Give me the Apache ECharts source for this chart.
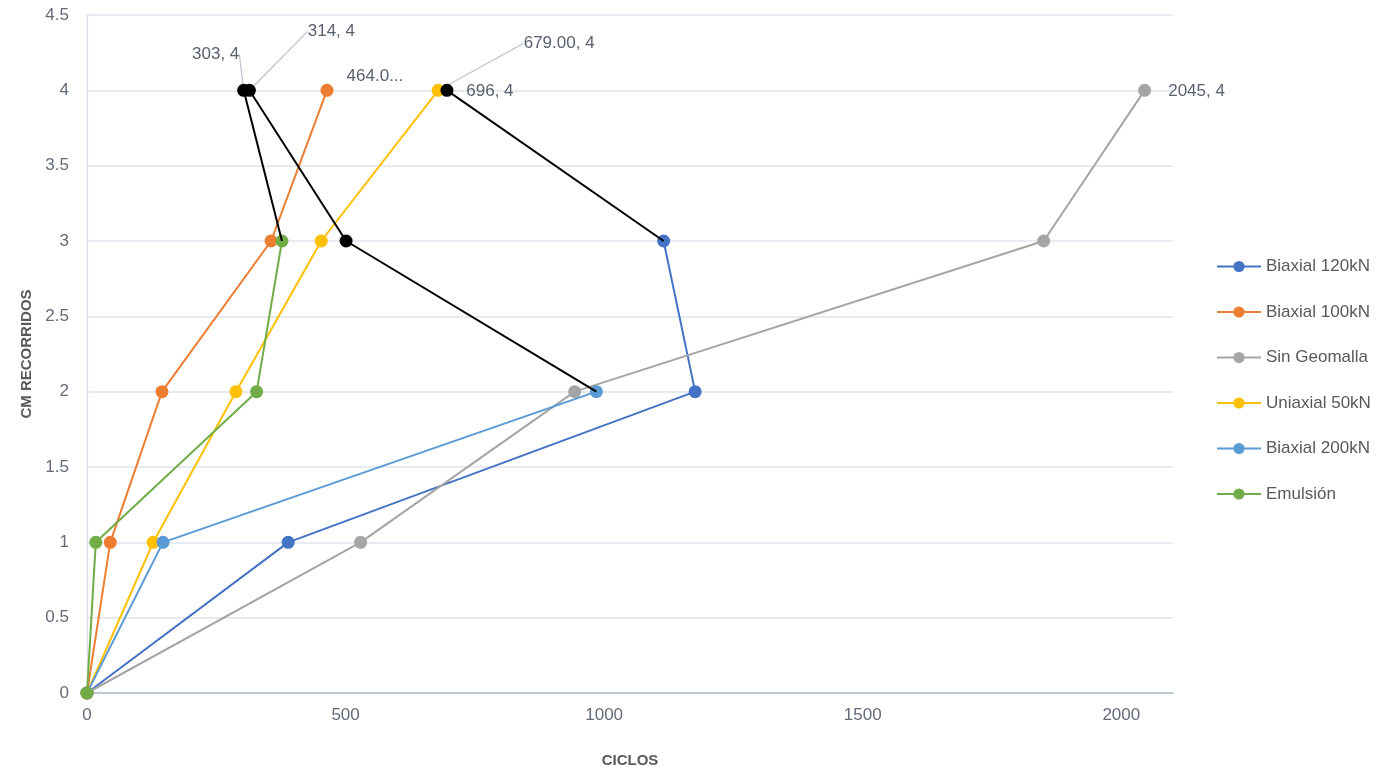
<!DOCTYPE html>
<html>
<head>
<meta charset="utf-8">
<script src="https://cdn.jsdelivr.net/npm/echarts@6/dist/echarts.min.js"></script>
<style>
  html, body { margin: 0; padding: 0; background: #ffffff; }
  #chart { width: 1381px; height: 773px; }
</style>
</head>
<body>
<div id="chart"></div>
<script>
// cm travelled at each reading
const levels = [0, 1, 2, 3, 4];

// cycles needed to reach each level
const biaxial120 = [0, 389, 1176, 1115, 696];
const biaxial100 = [0, 45, 145, 356, 464];
const sinGeomalla = [0, 529, 943, 1850, 2045];
const uniaxial50 = [0, 128, 288, 453, 679];
const biaxial200 = [0, 147, 985, 501, 314];
const emulsion = [0, 17, 328, 377, 303];

const seriesNames = ['Biaxial 120kN', 'Biaxial 100kN', 'Sin Geomalla', 'Uniaxial 50kN', 'Biaxial 200kN', 'Emulsión'];
const seriesColors = ['#4472C4', '#ED7D31', '#A5A5A5', '#FFC000', '#5B9BD5', '#70AD47'];
const seriesValues = [biaxial120, biaxial100, sinGeomalla, uniaxial50, biaxial200, emulsion];

// index from which each series' last readings are drawn in black
const blackFrom = [3, null, null, null, 2, 3];

// axis ticks
const xTickStep = 500;
const xMax = 2100;
const yTickStep = 0.5;
const yMax = 4.5;

const labelFont = 'Liberation Sans, Arial, sans-serif';
const labelColor = '#59606e';

// text of the point labels, and where they sit relative to the point
const pointLabels = {
  'Biaxial 120kN': { fmt: (x, y) => x + ', ' + y, dx: 43, dy: 1, line: false },
  'Biaxial 100kN': { fmt: (x, y) => x.toFixed(1) + '...', dx: 48, dy: -14, line: false },
  'Sin Geomalla': { fmt: (x, y) => x + ', ' + y, dx: 52, dy: 1, line: false },
  'Uniaxial 50kN': { fmt: (x, y) => x.toFixed(2) + ', ' + y, dx: 121, dy: -47, line: true },
  'Biaxial 200kN': { fmt: (x, y) => x + ', ' + y, dx: 82, dy: -59, line: true },
  'Emulsión': { fmt: (x, y) => x + ', ' + y, dx: -28, dy: -36, line: true }
};

function points(xs, from, to) {
  return xs.slice(from, to).map((x, i) => [x, levels[from + i]]);
}

function labelledLast(data, name) {
  const cfg = pointLabels[name];
  const last = data.length - 1;
  const v = data[last];
  data[last] = {
    value: v,
    label: {
      show: true,
      position: 'inside',
      color: labelColor,
      fontFamily: labelFont,
      fontSize: 17,
      formatter: () => cfg.fmt(v[0], v[1])
    },
    labelLine: { show: cfg.line, lineStyle: { color: '#b9c2d0', width: 1.2 } }
  };
  return data;
}

function layoutFor(name, lastIndex) {
  const cfg = pointLabels[name];
  return function (p) {
    if (p.dataIndex === lastIndex) return { dx: cfg.dx, dy: cfg.dy };
    return {};
  };
}

const series = [];
seriesValues.forEach((xs, k) => {
  const name = seriesNames[k];
  const cut = blackFrom[k];
  const end = cut === null ? xs.length : cut + 1;
  let data = points(xs, 0, end);
  const base = {
    name: name,
    type: 'line',
    symbol: 'circle',
    symbolSize: 13,
    showSymbol: true,
    color: seriesColors[k],
    lineStyle: { width: 2, color: seriesColors[k] },
    itemStyle: { color: seriesColors[k] },
    z: 2 + k,
    animation: false
  };
  if (cut === null) {
    data = labelledLast(data, name);
    base.labelLayout = layoutFor(name, data.length - 1);
  }
  base.data = data;
  series.push(base);
});

// black tail segments for the series whose final readings are drawn in black
seriesValues.forEach((xs, k) => {
  const cut = blackFrom[k];
  if (cut === null) return;
  const name = seriesNames[k];
  let data = points(xs, cut, xs.length);
  data[0] = { value: data[0], symbol: 'none' };
  data = labelledLast(data, name);
  series.push({
    name: name + ' ',
    type: 'line',
    symbol: 'circle',
    symbolSize: 13,
    color: '#000000',
    lineStyle: { width: 2, color: '#000000' },
    itemStyle: { color: '#000000' },
    z: 10,
    animation: false,
    labelLayout: layoutFor(name, data.length - 1),
    data: data
  });
});

const chart = echarts.init(document.getElementById('chart'), null, { renderer: 'canvas' });
chart.setOption({
  backgroundColor: '#ffffff',
  animation: false,
  grid: { left: 87, right: 208, top: 15, bottom: 80, containLabel: false },
  legend: {
    data: seriesNames,
    orient: 'vertical',
    left: 1211,
    top: 253,
    itemWidth: 44,
    itemHeight: 14,
    itemGap: 28.5,
    textStyle: { color: '#595959', fontSize: 17, fontFamily: labelFont }
  },
  xAxis: {
    type: 'value',
    min: 0,
    max: xMax,
    interval: xTickStep,
    name: 'CICLOS',
    nameLocation: 'middle',
    nameGap: 60,
    nameTextStyle: { color: '#595959', fontSize: 15, fontWeight: 'bold', fontFamily: labelFont },
    axisLine: { show: true, lineStyle: { color: '#b4bfcf', width: 1.5 } },
    axisTick: { show: false },
    splitLine: { show: false },
    axisLabel: {
      color: '#646b78', fontSize: 17, fontFamily: labelFont, margin: 14, showMaxLabel: false,
      formatter: (v) => String(v)
    }
  },
  yAxis: {
    type: 'value',
    min: 0,
    max: yMax,
    interval: yTickStep,
    name: 'CM RECORRIDOS',
    nameLocation: 'middle',
    nameGap: 52,
    nameTextStyle: { color: '#595959', fontSize: 15, fontWeight: 'bold', fontFamily: labelFont },
    axisLine: { show: true, lineStyle: { color: '#d3dae5', width: 1.2 } },
    axisTick: { show: false },
    splitLine: { show: true, lineStyle: { color: '#dfe4ec', width: 1.5 } },
    axisLabel: { color: '#646b78', fontSize: 17, fontFamily: labelFont, margin: 18 }
  },
  series: series
});
</script>
</body>
</html>
